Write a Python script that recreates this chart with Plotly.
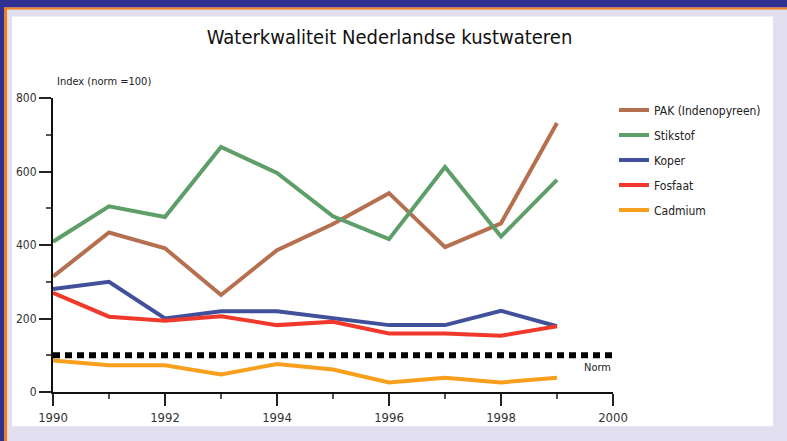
import plotly.graph_objects as go

years = [1990, 1991, 1992, 1993, 1994, 1995, 1996, 1997, 1998, 1999]
series_names = ["PAK (Indenopyreen)", "Stikstof", "Koper", "Fosfaat", "Cadmium"]
pak = [314, 434, 391, 264, 386, 457, 541, 394, 459, 732]
stikstof = [409, 505, 476, 667, 596, 478, 416, 612, 423, 577]
koper = [280, 300, 200, 220, 220, 200, 182, 182, 221, 179]
fosfaat = [270, 205, 194, 206, 182, 191, 159, 159, 153, 179]
cadmium = [86, 73, 73, 48, 76, 61, 26, 39, 26, 39]
norm_x = [1990, 2000]
norm_y = [100, 100]
y_ticks = [0, 200, 400, 600, 800]
x_ticks = [1990, 1992, 1994, 1996, 1998, 2000]

colors = ["#B5704F", "#5E9E68", "#41509A", "#F0392B", "#F8A01E"]
values = [pak, stikstof, koper, fosfaat, cadmium]

FONT = "DejaVu Sans Condensed, Liberation Sans Narrow, Arial Narrow, sans-serif"

fig = go.Figure()
for i, (name, vals, col) in enumerate(zip(series_names, values, colors)):
    fig.add_trace(go.Scatter(x=years, y=vals, mode="lines", name=name,
                             line=dict(color=col, width=4), legendgroup=str(i)))
fig.add_trace(go.Scatter(x=norm_x, y=norm_y, mode="lines", showlegend=False,
                         line=dict(color="black", width=6, dash="7px,5px")))

# geometry (pixels)
W, H = 787, 441
L, R = 53, 613
T, B = 97.6, 391.7
pw, ph = R - L, B - T
def px(x):
    return (x - L) / pw
def py(y):
    return (B - y) / ph

shapes = [
    dict(type="rect", xref="paper", yref="paper", x0=px(12), x1=px(773), y0=py(426), y1=py(16),
         fillcolor="white", line=dict(width=0), layer="below"),
    dict(type="rect", xref="paper", yref="paper", x0=px(-2), x1=px(W + 2), y0=py(7), y1=py(-2),
         fillcolor="#2E3191", line=dict(width=0), layer="below"),
    dict(type="rect", xref="paper", yref="paper", x0=px(-2), x1=px(4), y0=py(H + 2), y1=py(0),
         fillcolor="#2E3191", line=dict(width=0), layer="below"),
    dict(type="rect", xref="paper", yref="paper", x0=px(4), x1=px(W + 2), y0=py(9), y1=py(7),
         fillcolor="#F07F1E", line=dict(width=0), layer="below"),
    dict(type="rect", xref="paper", yref="paper", x0=px(4), x1=px(7), y0=py(H + 2), y1=py(7),
         fillcolor="#F07F1E", line=dict(width=0), layer="below"),
]

fig.update_layout(
    width=W, height=H,
    margin=dict(l=L, r=W - R, t=T, b=H - B, pad=0),
    paper_bgcolor="#E1DFF0", plot_bgcolor="white",
    font=dict(family=FONT, color="#222"),
    shapes=shapes,
    title=dict(text="Waterkwaliteit Nederlandse kustwateren", x=0.495, xanchor="center",
               y=1 - 37 / H, yanchor="middle", font=dict(size=20, color="#111")),
    showlegend=True,
    legend=dict(x=px(614), y=py(95), xanchor="left", yanchor="top", bgcolor="rgba(0,0,0,0)",
                font=dict(size=12, color="#222"), tracegroupgap=6, itemwidth=30),
    xaxis=dict(range=[1990, 2000], tickvals=x_ticks, ticks="outside", ticklen=12, tickwidth=1.5,
               tickcolor="#222", showline=True, linecolor="#111", linewidth=2, showgrid=False,
               zeroline=False, tickfont=dict(size=13, color="#333"),
               minor=dict(ticks="outside", ticklen=5, dtick=1, tickcolor="#555")),
    yaxis=dict(range=[0, 800], tickvals=y_ticks, ticks="outside", ticklen=12, tickwidth=1.5,
               tickcolor="#222", showline=True, linecolor="#111", linewidth=2, showgrid=False,
               zeroline=False, tickfont=dict(size=12, color="#333"),
               minor=dict(ticks="outside", ticklen=5, dtick=100, tickcolor="#555")),
    annotations=[
        dict(text="Index (norm =100)", xref="paper", yref="paper", x=px(55), y=py(81),
             xanchor="left", yanchor="middle", showarrow=False, font=dict(size=11, color="#222")),
        dict(text="Norm", xref="x", yref="y", x=2000, y=100, xanchor="right", yanchor="top",
             yshift=-4, showarrow=False, font=dict(size=11, color="#222")),
    ],
)

fig.write_html("out.html", config={"displayModeBar": False},
               post_script="document.body.style.margin='0';document.body.style.background='#E1DFF0';")
